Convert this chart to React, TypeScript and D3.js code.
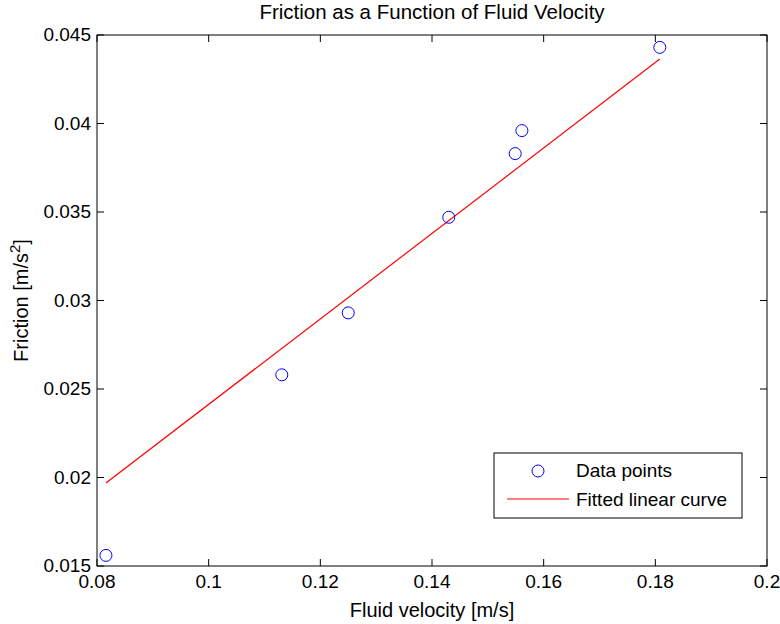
import React from "react";
import * as d3 from "d3";

const velocity = [0.0816, 0.1131, 0.125, 0.143, 0.1549, 0.1561, 0.1808];
const friction = [0.0156, 0.0258, 0.0293, 0.0347, 0.0383, 0.0396, 0.0443];
const fitX = [0.0816, 0.1808];
const fitY = [0.01969, 0.04364];
const xTicks = [0.08, 0.1, 0.12, 0.14, 0.16, 0.18, 0.2];
const yTicks = [0.015, 0.02, 0.025, 0.03, 0.035, 0.04, 0.045];
const xTickLabels = ["0.08", "0.1", "0.12", "0.14", "0.16", "0.18", "0.2"];
const yTickLabels = ["0.015", "0.02", "0.025", "0.03", "0.035", "0.04", "0.045"];

const W = 780, H = 624;
const L = 97, R = 767, T = 35, B = 566;
const font = "Liberation Sans, Arial, sans-serif";

export default function App() {
  const x = d3.scaleLinear().domain([0.08, 0.2]).range([L, R]);
  const y = d3.scaleLinear().domain([0.015, 0.045]).range([B, T]);
  const line = d3.line<number>().x((_, i) => x(fitX[i])).y((d) => y(d));
  const tick = 7;
  const fs = 19;
  return (
    <svg width={W} height={H} style={{ position: "absolute", left: 0, top: 0, background: "#fff" }} fontFamily={font}>
      <rect x={0} y={0} width={W} height={H} fill="#fff" />
      <path d={line(fitY) || ""} stroke="#ff0000" strokeWidth={1.2} fill="none" />
      {velocity.map((v, i) => (
        <circle key={i} cx={x(v)} cy={y(friction[i])} r={6} fill="none" stroke="#0000ff" strokeWidth={1} />
      ))}
      <rect x={L} y={T} width={R - L} height={B - T} fill="none" stroke="#000" strokeWidth={1} />
      {xTicks.map((t, i) => (
        <g key={"x" + i}>
          <line x1={x(t)} x2={x(t)} y1={B} y2={B - tick} stroke="#000" />
          <line x1={x(t)} x2={x(t)} y1={T} y2={T + tick} stroke="#000" />
          <text x={x(t)} y={B + 22} textAnchor="middle" fontSize={fs} fill="#000">{xTickLabels[i]}</text>
        </g>
      ))}
      {yTicks.map((t, i) => (
        <g key={"y" + i}>
          <line x1={L} x2={L + tick} y1={y(t)} y2={y(t)} stroke="#000" />
          <line x1={R} x2={R - tick} y1={y(t)} y2={y(t)} stroke="#000" />
          <text x={L - 6} y={y(t) + 6} textAnchor="end" fontSize={fs} fill="#000">{yTickLabels[i]}</text>
        </g>
      ))}
      <text x={(L + R) / 2} y={19} textAnchor="middle" fontSize={20.5} fill="#000">Friction as a Function of Fluid Velocity</text>
      <text x={(L + R) / 2} y={617} textAnchor="middle" fontSize={20} fill="#000">Fluid velocity [m/s]</text>
      <text transform={`translate(28, ${(T + B) / 2}) rotate(-90)`} textAnchor="middle" fontSize={20} fill="#000">
        Friction [m/s<tspan dy={-8} fontSize={15}>2</tspan><tspan dy={8}>]</tspan>
      </text>
      <g>
        <rect x={494} y={453} width={248} height={65} fill="#fff" stroke="#000" strokeWidth={1} />
        <circle cx={538} cy={471} r={6} fill="none" stroke="#0000ff" strokeWidth={1} />
        <text x={576} y={477} fontSize={fs} fill="#000">Data points</text>
        <line x1={507} x2={569} y1={499} y2={499} stroke="#ff0000" strokeWidth={1} />
        <text x={576} y={506} fontSize={fs} fill="#000">Fitted linear curve</text>
      </g>
    </svg>
  );
}
